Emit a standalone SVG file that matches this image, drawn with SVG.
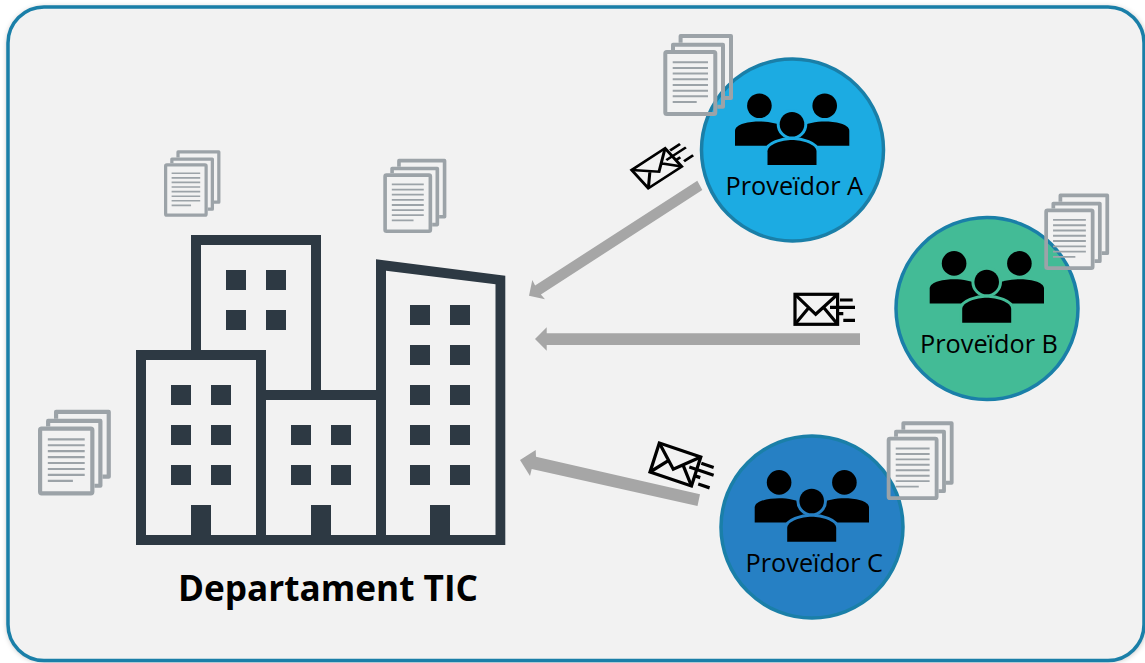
<svg xmlns="http://www.w3.org/2000/svg" width="1145" height="663" viewBox="0 0 1145 663">
<style>
.b{fill:#2d3943}
.k{fill:#000;stroke:none}
.gap{stroke-width:6;stroke-linejoin:round}
.doc{fill:none;stroke:#9ca3a8;stroke-width:4;stroke-linejoin:round}
.dl{fill:none;stroke:#9ca3a8;stroke-width:2}
.env{fill:none;stroke:#000;stroke-width:3.2;stroke-linejoin:miter}
.circ{stroke:#1a7fa8;stroke-width:3.5}
.lab{font-family:"Open Sans","Liberation Sans",sans-serif;font-size:25.3px;fill:#000}
.arrow{fill:#a6a6a6}
</style>
<defs>
<filter id="sh" x="-5%" y="-5%" width="110%" height="110%"><feGaussianBlur stdDeviation="3"/></filter>
<g id="doc">
<rect class="doc" x="2" y="2" width="50" height="62" rx="1.5"/>
<path class="doc" d="M9.7 0V-5.3H59.7V56.7H54"/>
<path class="doc" d="M17.3-7.3V-14H67.7V48H61.7"/>
<path class="dl" d="M9.4 12.3H44.7M9.4 18H44.7M9.4 23.6H44.7M9.4 29.3H44.7M9.4 35H44.7M9.4 40.7H44.7M9.4 46.3H44.7M9.4 52H33.4"/>
</g>
<g id="people">
<circle class="k" cx="-32.6" cy="-18.6" r="12.3"/>
<circle class="k" cx="32.7" cy="-18.6" r="12.3"/>
<path class="k" d="M-57 21.5V6.5C-57-.5-42-2.8-32.5-2.8C-24-2.8-14-1-6 3V21.5Z"/>
<path class="k" d="M57.3 21.5V6.5C57.3-.5 42.3-2.8 32.8-2.8C24.3-2.8 14.3-1 6 3V21.5Z"/>
<circle class="gap" cx="0" cy="0" r="12.3"/>
<path class="gap" d="M-24.5 40.7V27C-24.5 20-10 15.7 0 15.7C10 15.7 24.5 20 24.5 27V40.7Z"/>
<circle class="k" cx="0" cy="0" r="12.3"/>
<path class="k" d="M-24.5 40.7V27C-24.5 20-10 15.7 0 15.7C10 15.7 24.5 20 24.5 27V40.7Z"/>
</g>
<g id="env">
<rect class="env" x="-21.3" y="-15" width="42.6" height="30"/>
<path class="env" d="M-21.3-15L-.6 5L21.3-15M-21.3 15L-8 -1M21.3 15L8-1"/>
<path class="env" d="M23.7-9.3H36.4M13.7-2H38.7M21.7 4.4H27M27 11H38.7"/>
</g>
</defs>

<g id="frame">
<rect x="8" y="8" width="1137" height="653" rx="36" fill="#000" opacity=".35" filter="url(#sh)"/>
<rect x="8" y="7" width="1136" height="653.5" rx="36" fill="#f2f2f2" stroke="#1a7fa8" stroke-width="3.5"/>
</g>

<g id="connectors">
<polygon class="arrow" points="697.3,180.7 702.3,190 540.9,294.5 545,299.3 529,295.7 532.3,280 535.1,285.5"/>
<polygon class="arrow" points="860,333.3 546.7,333.3 546.7,327.3 535,339 546.7,350.7 546.7,345 860,345"/>
<polygon class="arrow" points="700,494.3 536,456.7 535.7,450 520,460 530,476 531.7,469 697.5,506"/>
</g>

<g id="departament">
<path class="b" fill-rule="evenodd" d="M191 235H321V390H376V259.2L505.3 275.7V545H136V350H191ZM201 245V350H266V390H311V245ZM146 360V535H191V505H211V535H256V360ZM266 400V535H311V505H331V535H376V400ZM386 270.7V535H430V505H450V535H495.5V284.3Z"/>
<g class="b">
<rect x="226" y="270" width="20" height="20"/><rect x="266" y="270" width="20" height="20"/>
<rect x="226" y="310" width="20" height="20"/><rect x="266" y="310" width="20" height="20"/>
<rect x="171" y="385" width="20" height="20"/><rect x="211" y="385" width="20" height="20"/>
<rect x="171" y="425" width="20" height="20"/><rect x="211" y="425" width="20" height="20"/>
<rect x="171" y="465" width="20" height="20"/><rect x="211" y="465" width="20" height="20"/>
<rect x="291" y="425" width="20" height="20"/><rect x="331" y="425" width="20" height="20"/>
<rect x="291" y="465" width="20" height="20"/><rect x="331" y="465" width="20" height="20"/>
<rect x="410" y="305" width="20" height="20"/><rect x="450" y="305" width="20" height="20"/>
<rect x="410" y="345" width="20" height="20"/><rect x="450" y="345" width="20" height="20"/>
<rect x="410" y="385" width="20" height="20"/><rect x="450" y="385" width="20" height="20"/>
<rect x="410" y="425" width="20" height="20"/><rect x="450" y="425" width="20" height="20"/>
<rect x="410" y="465" width="20" height="20"/><rect x="450" y="465" width="20" height="20"/>
</g>
<text x="178" y="601" font-family="'Open Sans','Liberation Sans',sans-serif" font-weight="700" font-size="35px" fill="#000" textLength="300" lengthAdjust="spacingAndGlyphs">Departament TIC</text>
</g>

<g id="docs-departament">
<use href="#doc" transform="translate(164 163.3) scale(.81)"/>
<use href="#doc" transform="translate(383.3 173.3) scale(.905)"/>
<use href="#doc" transform="translate(38 426.5) scale(1.045)"/>
</g>

<g id="proveidor-a">
<circle class="circ" cx="792.5" cy="150" r="91" fill="#1cabe2"/>
<use href="#people" transform="translate(792 124.3)" fill="#1cabe2" stroke="#1cabe2"/>
<text class="lab" x="725.5" y="195">Proveïdor A</text>
<use href="#doc" transform="translate(663.3 50)"/>
<use href="#env" transform="matrix(.784 -.509 .557 .61 656.7 168.3)"/>
</g>

<g id="proveidor-b">
<circle class="circ" cx="987" cy="308.5" r="91" fill="#43bb96"/>
<use href="#people" transform="translate(986.7 282)" fill="#43bb96" stroke="#43bb96"/>
<text class="lab" x="920" y="353">Proveïdor B</text>
<use href="#doc" transform="translate(1044.3 208.5) scale(.93)"/>
<use href="#env" transform="translate(816.3 309.3)"/>
</g>

<g id="proveidor-c">
<circle class="circ" cx="812" cy="527" r="91" fill="#2680c4"/>
<use href="#people" transform="translate(811.7 501)" fill="#2680c4" stroke="#2680c4"/>
<text class="lab" x="745.5" y="571.7">Proveïdor C</text>
<use href="#doc" transform="translate(886.7 436.7) scale(.96)"/>
<use href="#env" transform="matrix(.972 .329 -.31 .967 675.4 464.5)"/>
</g>
</svg>
